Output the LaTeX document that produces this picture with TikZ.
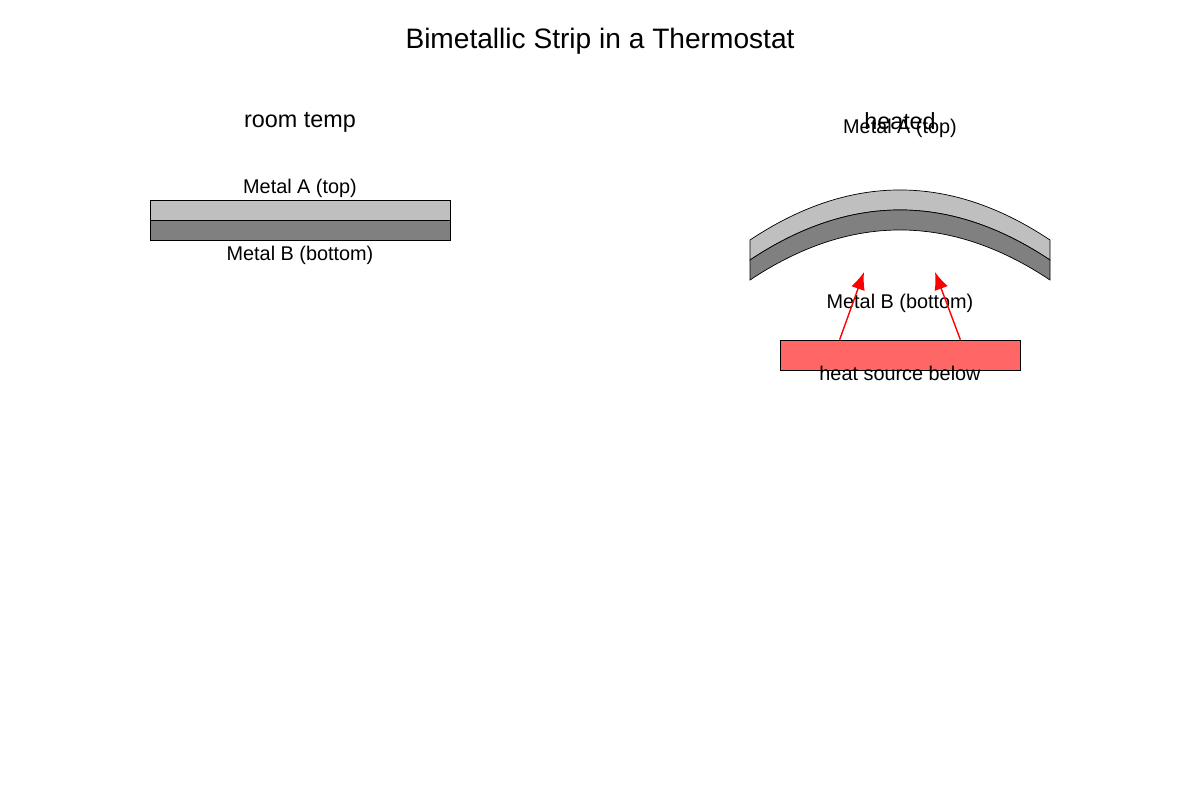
\documentclass[tikz,border=0pt]{standalone}
\usepackage{fontspec}
\setmainfont{Liberation Sans}
\usetikzlibrary{arrows.meta}
\begin{document}
\begin{tikzpicture}[x=0.02cm,y=-0.02cm]
  \tikzset{label/.style={inner sep=0pt,font=\fontsize{11.3}{13}\selectfont},
    metalA/.style={draw=black,thin,fill=black!25},
    metalB/.style={draw=black,thin,fill=black!50},
    heat/.style={draw=red,thick,-{Latex[length=10pt,width=8pt]}}}
  \useasboundingbox (0,0) rectangle (1200,800);
  \node[inner sep=0pt,font=\fontsize{16}{18}\selectfont] (title) at (600,41) {Bimetallic Strip in a Thermostat};

  % room temperature
  \node[inner sep=0pt,font=\fontsize{13.3}{15}\selectfont] (cold) at (300,122) {room temp};
  \draw[metalA] (150,200) rectangle (450,220);
  \draw[metalB] (150,220) rectangle (450,240);
  \node[label] (coldA) at (300,188) {Metal A (top)};
  \node[label] (coldB) at (300,255) {Metal B (bottom)};

  % heated
  \node[inner sep=0pt,font=\fontsize{13.3}{15}\selectfont] (hot) at (900,121) {heated};
  \draw[metalA] (750,240) .. controls (850,173.3) and (950,173.3) .. (1050,240) -- (1050,260)
    .. controls (950,193.3) and (850,193.3) .. (750,260) -- cycle;
  \draw[metalB] (750,260) .. controls (850,193.3) and (950,193.3) .. (1050,260) -- (1050,280)
    .. controls (950,213.3) and (850,213.3) .. (750,280) -- cycle;
  \node[label] (hotA) at (900,128) {Metal A (top)};
  \node[label] (hotB) at (900,303) {Metal B (bottom)};
  \node[draw=black,thin,fill=red!60,minimum width=240*0.02cm,minimum height=30*0.02cm,inner sep=0pt] (source) at (900,355) {};
  \node[label] (sourcelabel) at (900,373) {heat source below};
  \coordinate (tip1) at (864,272);
  \coordinate (tip2) at (935,272);
  \draw[heat] (source.north west) ++(60,0) coordinate (foot1) -- (tip1);
  \draw[heat] (source.north east) ++(-60,0) coordinate (foot2) -- (tip2);
\end{tikzpicture}
\end{document}
